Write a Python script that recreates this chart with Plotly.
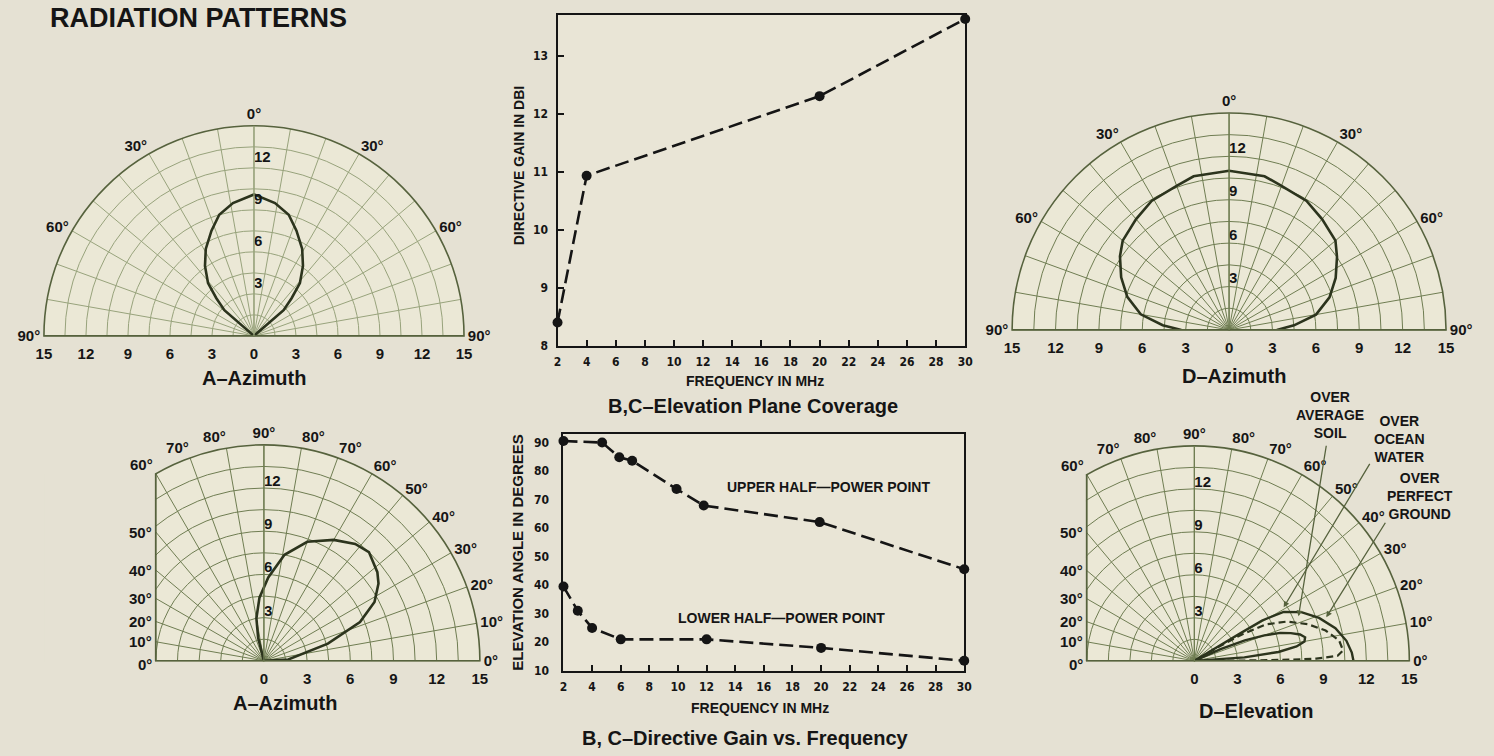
import math
import plotly.graph_objects as go

W, H = 1494, 756
BG = '#e5e1d3'
PANEL = '#ebe8d6'
GRID = '#6f7d52'
GRID_LIGHT = '#98a37c'
EDGE = '#56623d'
CURVE = '#2c341d'
INK = '#151515'
FONT = 'Liberation Sans, Arial, sans-serif'
NARROW = 'Liberation Sans Narrow, DejaVu Sans Condensed, Arial Narrow, sans-serif'

# ---------------- data ----------------
gain_freq = [2, 4, 20, 30]
gain_dbi = [8.4, 10.93, 12.3, 13.63]

upper_freq = [2, 4.7, 5.9, 6.8, 9.9, 11.8, 19.9, 30]
upper_deg = [90.5, 90, 84.8, 83.6, 73.7, 67.9, 62.1, 45.6]
lower_freq = [2, 3, 4, 6, 12, 20, 30]
lower_deg = [39.5, 31, 25, 21, 21, 18, 13.5]

freq_ticks = list(range(2, 31, 2))
gain_ticks = [8, 9, 10, 11, 12, 13]
elev_ticks = [10, 20, 30, 40, 50, 60, 70, 80, 90]

# A-Azimuth (top-left) pattern
az_a_theta = [-52, -49, -45, -41, -35, -29, -22, -16, -9, 0, 9, 16, 22, 29, 35, 41, 45, 49, 52]
az_a_r = [0, 2.8, 3.8, 5.0, 6.1, 7.1, 8.1, 9.0, 9.6, 10.1, 9.6, 9.0, 8.1, 7.1, 6.1, 5.0, 3.8, 2.8, 0]

# D-Azimuth (top-right) pattern
az_d_theta = [-90, -86, -80, -72, -64, -56, -50, -40, -31, -20, -13, 0, 13, 20, 31, 40, 50, 56, 64, 72, 80, 86, 90]
az_d_r = [3.3, 4.6, 6.2, 7.4, 8.3, 9.1, 9.6, 10.0, 10.4, 10.6, 10.9, 11.0, 10.9, 10.6, 10.4, 10.0, 9.6, 9.0, 8.2, 7.3, 6.1, 4.5, 3.3]

# A-Azimuth elevation (bottom-left) pattern
el_a_phi = [0, 3, 15, 22, 28, 34, 38, 46, 52, 60, 70, 79, 87, 94, 100, 104, 106]
el_a_r = [0, 1.7, 4.6, 7.2, 8.7, 9.6, 10.0, 10.5, 10.3, 9.7, 8.8, 7.5, 5.8, 4.4, 3.0, 1.65, 0]

# D-Elevation (bottom-right) patterns
perfect_phi = [0, 3, 7.5, 13, 19, 24.5, 28.7, 30.8, 31, 31, 32]
perfect_r = [11.1, 11.0, 10.7, 10.1, 9.2, 8.2, 7.1, 5.5, 3.7, 1.8, 0]
ocean_phi = [0, 0.3, 0.6, 1, 2, 4, 8, 13, 18, 23, 27, 29, 30, 30.5]
ocean_r = [0, 3, 6, 8.5, 10.0, 10.4, 10.2, 9.4, 8.3, 7.0, 5.6, 3.8, 2.0, 0]
soil_phi = [2, 4, 6, 8, 10, 12, 14, 16, 18, 20, 22, 24, 26]
soil_r = [0, 3.5, 5.9, 7.2, 7.8, 7.9, 7.6, 7.0, 6.3, 5.2, 3.8, 2.0, 0]

ring_vals = [1.5, 3, 4.5, 6, 7.5, 9, 10.5, 12, 13.5, 15]
ring_labels = [3, 6, 9, 12]
scale_vals = [0, 3, 6, 9, 12, 15]

az_tickvals = list(range(-90, 91, 10))
az_ticktext = [f'{abs(v)}°' if v % 30 == 0 else '' for v in az_tickvals]
el_tickvals = list(range(0, 181, 10))
el_ticktext = [(f'{v}°' if v <= 90 else (f'{180 - v}°' if v <= 110 else '')) for v in el_tickvals]
left_elev = [50, 40, 30, 20, 10, 0]

# panel geometry in pixels (center x, baseline y, radius)
TL = (252, 339, 212)
TR = (1235, 333, 219)
BL = (262, 667, 218)
BR = (1200, 667, 217)


def dom(c):
    cx, cy, R = c
    return dict(x=[(cx - R) / W, (cx + R) / W], y=[1 - cy / H, 1 - (cy - R) / H])


lab_font = dict(size=15, color=INK, family=FONT, weight='bold')


def polar(c, rot, direc, tv, tt, grid):
    return dict(
        domain=dom(c), sector=[0, 180], bgcolor=PANEL,
        angularaxis=dict(rotation=rot, direction=direc, tickmode='array', tickvals=tv,
                         ticktext=tt, showgrid=True, gridcolor=grid, gridwidth=1,
                         showline=True, linecolor=EDGE, linewidth=1.6, ticks='', tickfont=lab_font),
        radialaxis=dict(range=[0, 15], tickmode='array', tickvals=ring_vals,
                        showticklabels=False, angle=90, showgrid=True, gridcolor=grid,
                        gridwidth=1, showline=True, linecolor=grid, linewidth=1.3, ticks=''),
    )


fig = go.Figure()

# ---------- polar patterns ----------
fig.add_trace(go.Scatterpolar(theta=az_a_theta, r=az_a_r, mode='lines', subplot='polar',
                              line=dict(color=CURVE, width=2.6)))
fig.add_trace(go.Scatterpolar(theta=az_d_theta, r=az_d_r, mode='lines', subplot='polar2',
                              line=dict(color=CURVE, width=2.6)))
fig.add_trace(go.Scatterpolar(theta=el_a_phi, r=el_a_r, mode='lines', subplot='polar3',
                              line=dict(color=CURVE, width=2.6)))
fig.add_trace(go.Scatterpolar(theta=perfect_phi, r=perfect_r, mode='lines', subplot='polar4',
                              line=dict(color=CURVE, width=2.4)))
fig.add_trace(go.Scatterpolar(theta=ocean_phi, r=ocean_r, mode='lines', subplot='polar4',
                              line=dict(color=CURVE, width=2.2, dash='7px,4px')))
fig.add_trace(go.Scatterpolar(theta=soil_phi, r=soil_r, mode='lines', subplot='polar4',
                              line=dict(color=CURVE, width=2.4)))

ghost = dict(size=18, color='rgba(0,0,0,0)')
# baseline scale labels
for sp in ['polar', 'polar2']:
    rs = scale_vals[::-1][:-1] + [0] + scale_vals[1:]
    fig.add_trace(go.Scatterpolar(
        theta=[-90] * 5 + [0] + [90] * 5, r=rs, text=[str(v) for v in rs],
        mode='markers+text', marker=ghost, textposition='bottom center', textfont=lab_font,
        subplot=sp, cliponaxis=False, hoverinfo='skip'))
for sp in ['polar3', 'polar4']:
    fig.add_trace(go.Scatterpolar(theta=[0] * 6, r=scale_vals, text=[str(v) for v in scale_vals],
                                  mode='markers+text', marker=ghost, textposition='bottom center',
                                  textfont=lab_font, subplot=sp, cliponaxis=False,
                                  hoverinfo='skip'))
# ring labels along the vertical line
for sp, th, off in [('polar', 0, 0.65), ('polar2', 0, 0.5), ('polar3', 90, 0.4), ('polar4', 90, 0.4)]:
    fig.add_trace(go.Scatterpolar(theta=[th] * 4, r=[v + off for v in ring_labels],
                                  text=[str(v) for v in ring_labels], mode='text',
                                  textposition='middle right', textfont=lab_font, subplot=sp,
                                  cliponaxis=False, hoverinfo='skip'))

# ---------- line charts ----------
dash_line = dict(color=INK, width=2.6, dash='14px,6px')
fig.add_trace(go.Scatter(x=gain_freq, y=gain_dbi, mode='lines+markers', line=dash_line,
                         marker=dict(size=10, color=INK), xaxis='x', yaxis='y', cliponaxis=False))
fig.add_trace(go.Scatter(x=upper_freq, y=upper_deg, mode='lines+markers', line=dash_line,
                         marker=dict(size=10, color=INK), xaxis='x2', yaxis='y2', cliponaxis=False))
fig.add_trace(go.Scatter(x=lower_freq, y=lower_deg, mode='lines+markers', line=dash_line,
                         marker=dict(size=10, color=INK), xaxis='x2', yaxis='y2', cliponaxis=False))

tick_font = dict(size=12, color=INK, family=NARROW, weight='bold')
box = dict(showline=True, mirror=True, linecolor=INK, linewidth=2.2, showgrid=False,
           zeroline=False, tickfont=tick_font)

fig.update_layout(
    width=W, height=H, margin=dict(l=0, r=0, t=0, b=0),
    paper_bgcolor=BG, plot_bgcolor='#e9e5d6', showlegend=False,
    polar=polar(TL, 90, 'clockwise', az_tickvals, az_ticktext, GRID_LIGHT),
    polar2=polar(TR, 90, 'clockwise', az_tickvals, az_ticktext, GRID),
    polar3=polar(BL, 0, 'counterclockwise', el_tickvals, el_ticktext, GRID),
    polar4=polar(BR, 0, 'counterclockwise', el_tickvals, el_ticktext, GRID),
    xaxis=dict(domain=[558 / W, 969 / W], range=[2, 30], tickvals=freq_ticks, ticks='inside',
               ticklen=6, tickwidth=1.6, tickcolor=INK, anchor='y', ticklabelstandoff=4, **box),
    yaxis=dict(domain=[1 - 349 / H, 1 - 15 / H], range=[8, 13.7], tickvals=gain_ticks,
               ticks='inside', ticklen=6, tickwidth=1.6, tickcolor=INK, anchor='x',
               ticklabelstandoff=5, **box),
    xaxis2=dict(domain=[564 / W, 968 / W], range=[2, 30], tickvals=freq_ticks, ticks='inside',
                ticklen=6, tickwidth=1.6, tickcolor=INK, anchor='y2', ticklabelstandoff=4, **box),
    yaxis2=dict(domain=[1 - 677 / H, 1 - 438 / H], range=[10, 93], tickvals=elev_ticks,
                ticks='', anchor='x2', ticklabelstandoff=10, **box),
)

# ---------- masks / vertical edges for the clipped elevation charts ----------
shapes = []
anns = []
for (cx, cy, R) in (BL, BR):
    xl = cx - R / 2
    ytop = cy - 0.866 * R
    shapes.append(dict(type='rect', xref='paper', yref='paper', layer='above',
                       x0=(cx - R - 3) / W, x1=(xl - 0.8) / W,
                       y0=1 - (cy + 1.5) / H, y1=1 - (ytop - 0.5) / H,
                       fillcolor=BG, line=dict(width=0)))
    shapes.append(dict(type='line', xref='paper', yref='paper', layer='above',
                       x0=xl / W, x1=xl / W, y0=1 - cy / H, y1=1 - ytop / H,
                       line=dict(color=EDGE, width=1.8)))
    anns.append(dict(text='60°', x=(xl - 1) / W, y=1 - (ytop - 9) / H, xanchor='right',
                     yanchor='middle'))
    for a in left_elev:
        yy = cy - (R / 2) * math.tan(math.radians(a))
        anns.append(dict(text=f'{a}°', x=(xl - 2) / W, y=1 - (yy - (-4 if a == 0 else 0)) / H,
                         xanchor='right', yanchor='middle'))
for a in anns:
    a.update(xref='paper', yref='paper', showarrow=False, font=lab_font)


# ---------- captions & texts ----------
def cap(text, x, y, size=20, angle=0, family=FONT):
    return dict(text=text, x=x / W, y=1 - y / H, xref='paper', yref='paper', showarrow=False,
                textangle=angle, xanchor='center', yanchor='middle',
                font=dict(size=size, color=INK, family=family, weight='bold'))


anns += [
    cap('RADIATION PATTERNS', 196, 18, size=27),
    cap('A–Azimuth', 252, 382),
    cap('FREQUENCY IN MHz', 757, 385, size=14),
    cap('B,C–Elevation Plane Coverage', 755, 410),
    cap('DIRECTIVE GAIN IN DBI', 520, 167, size=14, angle=-90),
    cap('D–Azimuth', 1240, 380),
    cap('A–Azimuth', 283, 710),
    cap('ELEVATION ANGLE IN DEGREES', 518, 558, size=15, angle=-90),
    cap('FREQUENCY IN MHz', 762, 715, size=14),
    cap('B, C–Directive Gain vs. Frequency', 747, 745),
    cap('D–Elevation', 1262, 718),
    cap('OVER<br>AVERAGE<br>SOIL', 1337, 419, size=14),
    cap('OVER<br>OCEAN<br>WATER', 1407, 443, size=14),
    cap('OVER<br>PERFECT<br>GROUND', 1427, 501, size=14),
]
anns.append(dict(text='UPPER HALF—POWER POINT', x=20.5, y=74.3, xref='x2', yref='y2',
                 showarrow=False, font=dict(size=14, color=INK, family=FONT, weight='bold')))
anns.append(dict(text='LOWER HALF—POWER POINT', x=17.25, y=28.4, xref='x2', yref='y2',
                 showarrow=False, font=dict(size=14, color=INK, family=FONT, weight='bold')))

# pointer arrows in D-Elevation
pointers = [((1333, 450), (1305, 622)), ((1377, 468), (1290, 613)), ((1393, 527), (1333, 623))]
for (tx, ty), (hx, hy) in pointers:
    anns.append(dict(text='', x=hx / W, y=1 - hy / H, xref='paper', yref='paper',
                     ax=tx - hx, ay=ty - hy, showarrow=True, arrowhead=2, arrowsize=0.9,
                     arrowwidth=1.3, arrowcolor=EDGE))

fig.update_layout(shapes=shapes, annotations=anns)
fig.write_html('out.html')
